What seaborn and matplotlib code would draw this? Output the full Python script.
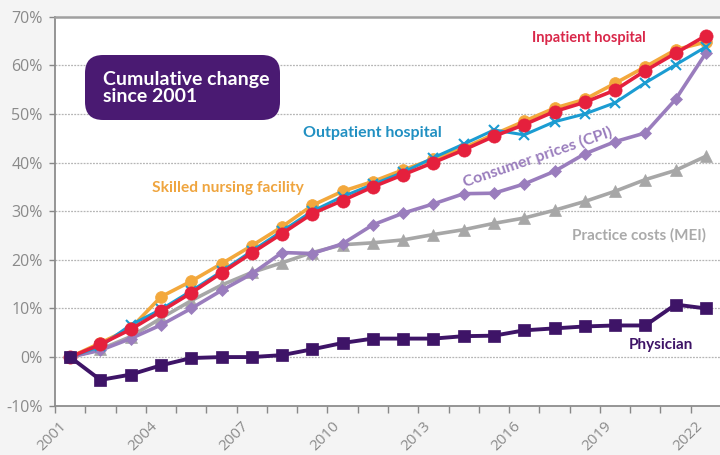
import matplotlib
matplotlib.use("Agg")
import matplotlib.pyplot as plt
import seaborn as sns
import pandas as pd
from matplotlib.patches import FancyBboxPatch
from matplotlib.ticker import FixedLocator, FuncFormatter

years = list(range(2001, 2023))
inpatient = [0, 2.6, 5.7, 9.4, 13.2, 17.3, 21.4, 25.4, 29.5, 32.2, 35.0, 37.5, 40.0, 42.6, 45.4, 47.8, 50.5, 52.4, 54.9, 58.9, 62.5, 66.1]
skilled_nursing = [0, 2.9, 5.9, 12.4, 15.6, 19.2, 22.9, 26.8, 31.2, 34.1, 36.1, 38.5, 40.7, 43.0, 45.8, 48.5, 51.2, 53.0, 56.3, 59.7, 63.2, 64.8]
outpatient = [0, 2.2, 6.6, 9.8, 13.6, 17.6, 21.8, 25.9, 30.0, 33.0, 35.5, 38.0, 41.0, 43.8, 46.7, 45.7, 48.4, 50.0, 52.3, 56.4, 60.1, 63.8]
cpi = [0, 1.4, 3.8, 6.6, 10.0, 13.7, 17.1, 21.5, 21.3, 23.3, 27.2, 29.6, 31.5, 33.6, 33.7, 35.6, 38.2, 41.8, 44.3, 46.1, 53.0, 62.5]
mei = [0, 1.6, 4.2, 8.0, 11.6, 14.8, 17.4, 19.4, 21.5, 23.1, 23.5, 24.1, 25.2, 26.2, 27.5, 28.6, 30.2, 32.0, 34.1, 36.5, 38.4, 41.3]
physician = [0, -4.7, -3.6, -1.7, -0.2, 0.0, 0.0, 0.4, 1.6, 2.9, 3.8, 3.8, 3.8, 4.3, 4.4, 5.5, 5.9, 6.3, 6.5, 6.5, 10.8, 10.0]

y_ticks = [-10, 0, 10, 20, 30, 40, 50, 60, 70]
x_label_years = [2001, 2004, 2007, 2010, 2013, 2016, 2019, 2022]

series_names = ["Practice costs (MEI)", "Consumer prices (CPI)", "Skilled nursing facility",
                "Outpatient hospital", "Inpatient hospital", "Physician"]
series_values = [mei, cpi, skilled_nursing, outpatient, inpatient, physician]

df = pd.DataFrame({
    "year": years * len(series_names),
    "change": [v for vals in series_values for v in vals],
    "series": [n for n in series_names for _ in years],
})

styles = {
    "Practice costs (MEI)": dict(color="#a7a7a7", marker="^", ms=8, lw=2.6),
    "Consumer prices (CPI)": dict(color="#9a7dbd", marker="D", ms=6, lw=2.6),
    "Skilled nursing facility": dict(color="#f3a83c", marker="o", ms=8.5, lw=2.6),
    "Outpatient hospital": dict(color="#1b9cd2", marker="x", ms=7, lw=2.2),
    "Inpatient hospital": dict(color="#e5203d", marker="o", ms=9.5, lw=2.6),
    "Physician": dict(color="#3e1467", marker="s", ms=9, lw=2.8),
}

fig = plt.figure(figsize=(7.2, 4.55), dpi=100)
fig.patch.set_facecolor("#f4f4f4")
ax = fig.add_axes([55 / 720, 49.3 / 455, 666 / 720, 389 / 455])
ax.set_facecolor("white")

for name in series_names:
    st = styles[name]
    sub = df[df["series"] == name]
    sns.lineplot(data=sub, x="year", y="change", ax=ax, color=st["color"],
                 linewidth=st["lw"], marker=st["marker"], markersize=st["ms"],
                 markeredgecolor=st["color"], markeredgewidth=1.5 if st["marker"] == "x" else 0.5,
                 legend=False, zorder=3)

ax.set_xlim(2000.5, 2022.5)
ax.set_ylim(-10, 70)
ax.set_xlabel("")
ax.set_ylabel("")

ax.yaxis.set_major_locator(FixedLocator(y_ticks))
ax.yaxis.set_major_formatter(FuncFormatter(lambda v, p: f"{int(v)}%"))
ax.xaxis.set_major_locator(FixedLocator(x_label_years))
ax.xaxis.set_minor_locator(FixedLocator([y - 0.5 for y in years] + [2022.5]))
ax.set_xticklabels([str(y) for y in x_label_years], rotation=45, ha="right",
                   fontsize=11, color="#8a8a8a", family="Open Sans")
ax.tick_params(axis="x", which="major", length=0, pad=9)
ax.tick_params(axis="x", which="minor", length=5, color="#888888", width=1, direction="out")
ax.tick_params(axis="y", length=4, color="#888888", width=1, pad=5, labelsize=11.5,
               labelcolor="#8a8a8a")
for lab in ax.get_yticklabels():
    lab.set_family("Open Sans")

for y in y_ticks[1:-1]:
    ax.axhline(y, color="#b5b5b5", lw=0.9, ls=(0, (1.5, 1)), zorder=1)

for s in ["left", "bottom"]:
    ax.spines[s].set_color("#8c8c8c")
    ax.spines[s].set_linewidth(1.3)
ax.spines["top"].set_color("#a0a0a0")
ax.spines["top"].set_linewidth(1.8)
ax.spines["right"].set_visible(False)

lab_font = dict(family=["Lato", "DejaVu Sans"], fontweight="bold")
ax.text(2018.13, 65.6, "Inpatient hospital", color="#d9284a", ha="center", va="center",
        fontsize=10.5, **lab_font)
ax.text(2011.0, 46.1, "Outpatient hospital", color="#2190c2", ha="center", va="center",
        fontsize=11.5, **lab_font)
ax.text(2006.2, 34.8, "Skilled nursing facility", color="#efa53f", ha="center", va="center",
        fontsize=11.2, **lab_font)
ax.text(2016.45, 41.1, "Consumer prices (CPI)", color="#9a7dbd", ha="center", va="center",
        rotation=19, fontsize=11.5, **lab_font)
ax.text(2019.8, 25.0, "Practice costs (MEI)", color="#aaaaaa", ha="center", va="center",
        fontsize=11, **lab_font)
ax.text(2020.5, 2.4, "Physician", color="#3e1467", ha="center", va="center",
        fontsize=11, **lab_font)

box = FancyBboxPatch((85 / 720, 1 - 120 / 455), 195 / 720, 65 / 455,
                     boxstyle="round,pad=0,rounding_size=0.025",
                     transform=fig.transFigure, facecolor="#4a1a72", edgecolor="none",
                     zorder=5, mutation_aspect=720 / 455)
fig.patches.append(box)
fig.text(103 / 720, 1 - 88 / 455, "Cumulative change\nsince 2001", color="white",
         fontsize=14, fontweight="bold", family=["Lato", "DejaVu Sans"],
         ha="left", va="center", linespacing=1.0, zorder=6)

fig.savefig("out.png", dpi=100, facecolor=fig.get_facecolor())
